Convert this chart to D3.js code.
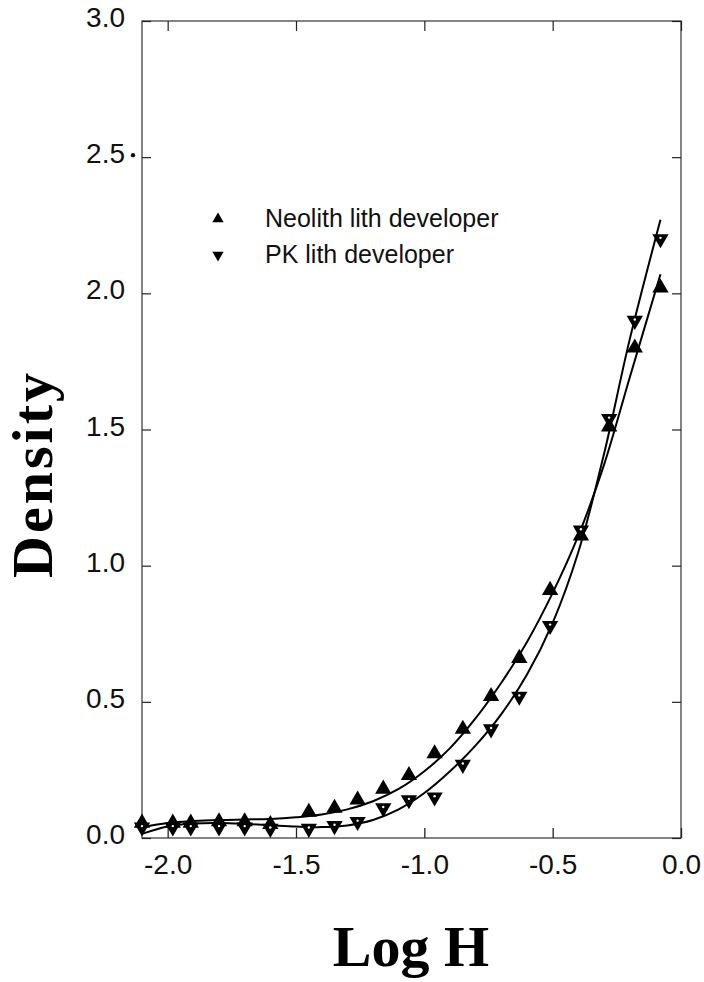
<!DOCTYPE html>
<html>
<head>
<meta charset="utf-8">
<script src="https://cdn.jsdelivr.net/npm/d3@7/dist/d3.min.js"></script>
<style>
  html, body { margin: 0; padding: 0; background: #fff; }
  svg { display: block; }
</style>
</head>
<body>
<svg id="chart" width="704" height="982"></svg>
<script>
// Measured points: log exposure (Log H) vs. developed density
const logH = [-2.10, -1.98, -1.91, -1.80, -1.70, -1.60, -1.45, -1.35, -1.26, -1.16,
              -1.06, -0.96, -0.85, -0.74, -0.63, -0.51, -0.39, -0.28, -0.18, -0.08];
const neolithDensity = [0.055, 0.055, 0.055, 0.06, 0.06, 0.05, 0.095, 0.11, 0.14, 0.18,
                        0.23, 0.31, 0.40, 0.52, 0.66, 0.91, 1.11, 1.51, 1.80, 2.02];
const pkDensity = [0.04, 0.04, 0.04, 0.04, 0.04, 0.035, 0.035, 0.045, 0.06, 0.11,
                   0.14, 0.15, 0.27, 0.40, 0.52, 0.78, 1.13, 1.54, 1.90, 2.20];

// Smoothed regression curves for each developer
const fitLogH = [-2.10, -2.00, -1.90, -1.80, -1.70, -1.60, -1.50, -1.40, -1.30, -1.20,
                 -1.10, -1.00, -0.90, -0.80, -0.70, -0.60, -0.50, -0.40, -0.30, -0.20, -0.08];
const neolithFit = [0.040, 0.055, 0.062, 0.066, 0.068, 0.070, 0.076, 0.086, 0.105, 0.135,
                    0.18, 0.245, 0.33, 0.44, 0.57, 0.72, 0.90, 1.11, 1.37, 1.69, 2.07];
const pkFit = [0.015, 0.042, 0.053, 0.055, 0.052, 0.047, 0.042, 0.040, 0.046, 0.066,
               0.105, 0.165, 0.245, 0.34, 0.455, 0.60, 0.79, 1.05, 1.41, 1.83, 2.27];

// Axis ticks
const xTicks = [-2.0, -1.5, -1.0, -0.5, 0.0];
const yTicks = [0.0, 0.5, 1.0, 1.5, 2.0, 2.5, 3.0];

const seriesNames = ["Neolith lith developer", "PK lith developer"];

const svg = d3.select("#chart");
const plotL = 142, plotR = 681, plotT = 21, plotB = 838;

const x = d3.scaleLinear().domain([-2.1, 0]).range([plotL, plotR]);
const y = d3.scaleLinear().domain([0, 3]).range([plotB, plotT]);

const tickFont = "'Liberation Sans', Arial, sans-serif";
const titleFont = "'Liberation Serif', 'Times New Roman', serif";

// Frame
svg.append("rect")
  .attr("x", plotL).attr("y", plotT)
  .attr("width", plotR - plotL).attr("height", plotB - plotT)
  .attr("fill", "none").attr("stroke", "#333").attr("stroke-width", 1.2);

// Bottom axis (inward ticks) + labels
const fmt = d => d3.format(".1f")(d).replace("\u2212", "-");
const xAxisB = d3.axisBottom(x).tickValues(xTicks).tickSizeInner(-10).tickSizeOuter(0)
  .tickPadding(16).tickFormat(fmt);
const gxb = svg.append("g").attr("transform", `translate(0,${plotB})`).call(xAxisB);
gxb.select(".domain").remove();
gxb.selectAll("line").attr("stroke", "#222").attr("stroke-width", 1.3);
gxb.selectAll("text").attr("font-family", tickFont).attr("font-size", 28).attr("fill", "#111");

// Top axis (inward ticks, no labels)
const xAxisT = d3.axisTop(x).tickValues(xTicks).tickSizeInner(-10).tickSizeOuter(0).tickFormat("");
const gxt = svg.append("g").attr("transform", `translate(0,${plotT})`).call(xAxisT);
gxt.select(".domain").remove();
gxt.selectAll("line").attr("stroke", "#222").attr("stroke-width", 1.2);

// Left axis (inward ticks) + labels
const yAxisL = d3.axisLeft(y).tickValues(yTicks).tickSizeInner(-9).tickSizeOuter(0)
  .tickPadding(17).tickFormat(fmt);
const gyl = svg.append("g").attr("transform", `translate(${plotL},0)`).call(yAxisL);
gyl.select(".domain").remove();
gyl.selectAll("line").attr("stroke", "#222").attr("stroke-width", 1.2);
gyl.selectAll("text").attr("font-family", tickFont).attr("font-size", 28).attr("fill", "#111")
  .attr("dy", "0.2em");

// Right axis (inward ticks)
const yAxisR = d3.axisRight(y).tickValues(yTicks).tickSizeInner(-9).tickSizeOuter(0).tickFormat("");
const gyr = svg.append("g").attr("transform", `translate(${plotR},0)`).call(yAxisR);
gyr.select(".domain").remove();
gyr.selectAll("line").attr("stroke", "#222").attr("stroke-width", 1.2);

// small ink dot beside the 2.5 label
svg.append("circle").attr("cx", plotL - 9).attr("cy", y(2.5) - 2).attr("r", 2.2).attr("fill", "#111");

// Fit curves
const line = d3.line().x(d => x(d[0])).y(d => y(d[1])).curve(d3.curveCatmullRom.alpha(0.5));
svg.append("path").datum(fitLogH.map((v, i) => [v, neolithFit[i]]))
  .attr("d", line).attr("fill", "none").attr("stroke", "#000").attr("stroke-width", 2);
svg.append("path").datum(fitLogH.map((v, i) => [v, pkFit[i]]))
  .attr("d", line).attr("fill", "none").attr("stroke", "#000").attr("stroke-width", 2);

// Markers
const upTri = d3.symbol().type(d3.symbolTriangle).size(115);
svg.append("g").selectAll("path").data(logH.map((v, i) => [v, neolithDensity[i]]))
  .join("path")
  .attr("d", upTri)
  .attr("transform", d => `translate(${x(d[0])},${y(d[1])})`)
  .attr("fill", "#000");

const pkG = svg.append("g");
pkG.selectAll("path").data(logH.map((v, i) => [v, pkDensity[i]]))
  .join("path")
  .attr("d", upTri)
  .attr("transform", d => `translate(${x(d[0])},${y(d[1])}) rotate(180)`)
  .attr("fill", "#000");
pkG.selectAll("circle").data(logH.map((v, i) => [v, pkDensity[i]]))
  .join("circle")
  .attr("cx", d => x(d[0])).attr("cy", d => y(d[1]) - 1)
  .attr("r", 1.2).attr("fill", "#fff");

// Legend
const legend = svg.append("g");
const legendSym = d3.symbol().type(d3.symbolTriangle).size(55);
seriesNames.forEach((name, i) => {
  const cy = 219 + i * 36;
  legend.append("path").attr("d", legendSym)
    .attr("transform", `translate(218,${cy})${i === 1 ? " rotate(180)" : ""}`)
    .attr("fill", "#000");
  legend.append("text").attr("x", 265).attr("y", cy + 8)
    .attr("font-family", tickFont).attr("font-size", 25).attr("fill", "#111")
    .text(name);
});

// Axis titles
svg.append("text").attr("x", 411).attr("y", 966)
  .attr("text-anchor", "middle")
  .attr("font-family", titleFont).attr("font-weight", "bold").attr("font-size", 58)
  .attr("fill", "#000").text("Log H");

svg.append("text")
  .attr("transform", "translate(52,474) rotate(-90)")
  .attr("text-anchor", "middle")
  .attr("font-family", titleFont).attr("font-weight", "bold").attr("font-size", 58)
  .attr("letter-spacing", 3)
  .attr("fill", "#000").text("Density");
</script>
</body>
</html>
